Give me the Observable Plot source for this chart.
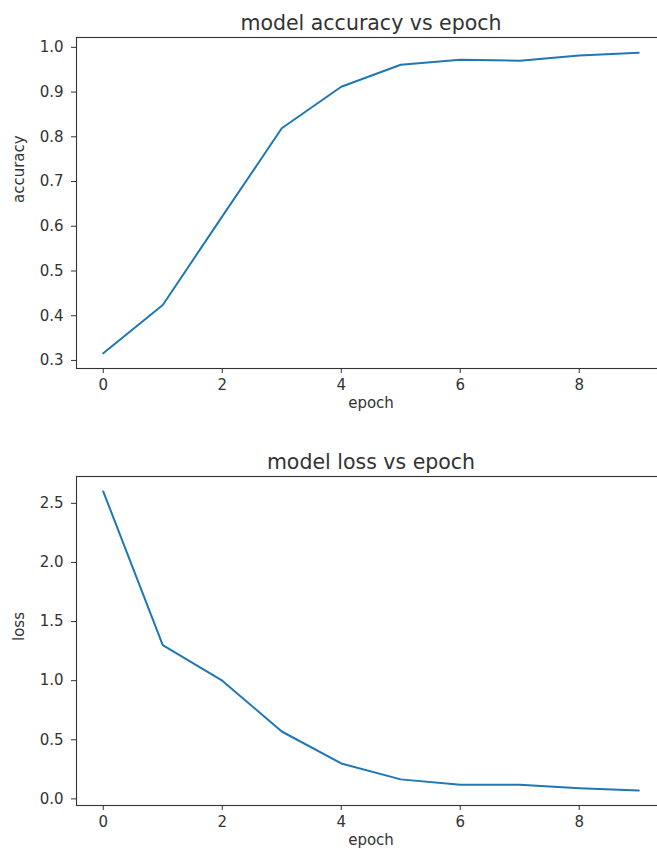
<!DOCTYPE html>
<html><head><meta charset="utf-8">
<script src="https://cdn.jsdelivr.net/npm/d3@7"></script>
<script src="https://cdn.jsdelivr.net/npm/@observablehq/plot@0.6"></script>
<style>
body{margin:0;background:#fff;width:657px;height:852px;overflow:hidden;font-family:"DejaVu Sans",sans-serif;}
#wrap{width:657px;overflow:hidden;}
svg{display:block;max-width:none !important;}
</style></head><body><div id="wrap"></div>
<script>
const epochs = [0, 1, 2, 3, 4, 5, 6, 7, 8, 9];
const accuracy = [0.316, 0.424, 0.622, 0.819, 0.912, 0.961, 0.972, 0.970, 0.982, 0.988];
const loss = [2.60, 1.30, 1.00, 0.57, 0.30, 0.165, 0.12, 0.12, 0.09, 0.07];
const xTicks = [0, 2, 4, 6, 8];
const accTicks = [0.3, 0.4, 0.5, 0.6, 0.7, 0.8, 0.9, 1.0];
const lossTicks = [0.0, 0.5, 1.0, 1.5, 2.0, 2.5];
const titles = ["model accuracy vs epoch", "model loss vs epoch"];
const yLabels = ["accuracy", "loss"];
const xLabel = "epoch";

const accData = epochs.map((e, i) => ({epoch: e, value: accuracy[i]}));
const lossData = epochs.map((e, i) => ({epoch: e, value: loss[i]}));

const fmt = d3.format(".1f");
const style = {fontFamily: "DejaVu Sans, sans-serif", fontSize: "15px", color: "#333", background: "#fff", maxWidth: "none"};

function panel({data, yDomain, yTicks, title, yLabel, height, marginTop, marginBottom}) {
  return Plot.plot({
    width: 690,
    height,
    marginLeft: 76,
    marginRight: 25,
    marginTop,
    marginBottom,
    style,
    x: {domain: [-0.45, 9.45]},
    y: {domain: yDomain},
    marks: [
      Plot.frame({stroke: "#333", strokeWidth: 1.1}),
      Plot.axisX({ticks: xTicks, tickSize: 5, tickPadding: 6, label: null, tickFormat: d3.format("d")}),
      Plot.axisY({ticks: yTicks, tickSize: 5, tickPadding: 8, label: null, tickFormat: fmt}),
      Plot.line(data, {x: "epoch", y: "value", stroke: "#1f77b4", strokeWidth: 2}),
      Plot.text([title], {text: d => d, frameAnchor: "top", dy: -13.7, fontSize: 20.5, lineAnchor: "middle"}),
      Plot.text([yLabel], {text: d => d, frameAnchor: "left", rotate: -90, dx: -57, fontSize: 15}),
      Plot.text([xLabel], {text: d => d, frameAnchor: "bottom", dy: 39.5, fontSize: 15})
    ]
  });
}

const wrap = document.getElementById("wrap");
wrap.append(panel({data: accData, yDomain: [0.282, 1.022], yTicks: accTicks, title: titles[0], yLabel: yLabels[0], height: 425, marginTop: 37, marginBottom: 57}));
wrap.append(panel({data: lossData, yDomain: [-0.056, 2.727], yTicks: lossTicks, title: titles[1], yLabel: yLabels[1], height: 427, marginTop: 51, marginBottom: 47}));
</script></body></html>
